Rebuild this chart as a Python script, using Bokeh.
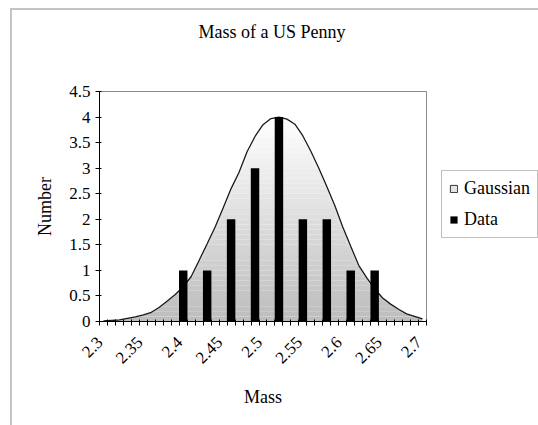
import math
import numpy as np
from bokeh.plotting import figure
from bokeh.models import FixedTicker, Legend, LegendItem, Title
from bokeh.embed import file_html
from bokeh.resources import INLINE

# ---- data ----
mass = [2.30, 2.31, 2.32, 2.33, 2.34, 2.35, 2.36, 2.37, 2.38, 2.39,
        2.40, 2.41, 2.42, 2.43, 2.44, 2.45, 2.46, 2.47, 2.48, 2.49,
        2.50, 2.51, 2.52, 2.53, 2.54, 2.55, 2.56, 2.57, 2.58, 2.59,
        2.60, 2.61, 2.62, 2.63, 2.64, 2.65, 2.66, 2.67, 2.68, 2.69, 2.70]
gaussian = [0.01, 0.02, 0.03, 0.06, 0.09, 0.13, 0.18, 0.28, 0.40, 0.53,
            0.68, 0.88, 1.20, 1.52, 1.85, 2.22, 2.60, 2.92, 3.32, 3.62,
            3.85, 3.97, 4.00, 3.96, 3.86, 3.63, 3.33, 3.00, 2.64, 2.27,
            1.85, 1.47, 1.10, 0.86, 0.64, 0.46, 0.34, 0.24, 0.15, 0.10, 0.05]
data_mass = [2.40, 2.43, 2.46, 2.49, 2.52, 2.55, 2.58, 2.61, 2.64]
data_count = [1, 1, 2, 3, 4, 2, 2, 1, 1]
x_tick_labels = ["2.3", "2.35", "2.4", "2.45", "2.5", "2.55", "2.6", "2.65", "2.7"]
y_tick_labels = ["0", "0.5", "1", "1.5", "2", "2.5", "3", "3.5", "4", "4.5"]

FONT = "Liberation Serif"
LABEL_SHIFT = 0.0045   # rotated labels sit a little left of their category

m = np.array(mass)
g = np.array(gaussian)
step = 0.01
x_lo, x_hi = m[0] - step / 2, m[-1] + step / 2
boundaries = list(np.concatenate([[x_lo], (m[:-1] + m[1:]) / 2, [x_hi]]))

p = figure(frame_width=327, frame_height=230,
           x_range=(x_lo, x_hi), y_range=(0, 4.5),
           output_backend="svg", toolbar_location=None,
           min_border_left=87, min_border_right=112,
           min_border_top=81, min_border_bottom=104,
           styles={"margin-left": "10px", "margin-top": "8px",
                   "border-left": "2px solid #c4c4c4",
                   "border-top": "2px solid #c4c4c4"})
p.xgrid.visible = False
p.ygrid.visible = False
p.background_fill_color = "white"
p.border_fill_color = "white"
p.outline_line_color = "#8a8a8a"
p.outline_line_width = 1

# spacer between frame and title, then the title itself
p.add_layout(Title(text=" ", text_font_size="1px", standoff=42), "above")
p.title.text = "Mass of a US Penny"
p.title.align = "left"
p.title.offset = 99
p.title.standoff = 10
p.title.text_font = FONT
p.title.text_font_size = "18px"
p.title.text_font_style = "normal"
p.title.text_color = "black"

# gradient fill under the gaussian, built from horizontal bands
nb = 40
top = max(gaussian)
for k in range(nb):
    lo = top * k / nb
    hi = top * (k + 1) / nb if k < nb - 1 else top + 1
    t = (k + 0.5) / nb
    v = int(round(188 + t * (255 - 188)))
    col = "#%02x%02x%02x" % (v, v, v)
    p.varea(x=mass, y1=np.minimum(g, lo), y2=np.minimum(g, hi),
            fill_color=col, fill_alpha=1.0)

p.line(mass, gaussian, line_color="#1a1a1a", line_width=1.3)

bars = p.vbar(x=data_mass, top=data_count, width=0.0106,
              fill_color="black", line_color=None)

# legend swatch for the gaussian area (nothing visible in the plot)
swatch = p.quad(left=[np.nan], right=[np.nan], top=[np.nan], bottom=[np.nan],
                fill_color="#e4e4e4", line_color="#333333", line_width=1)

# axes
xticks = [float(s) - LABEL_SHIFT for s in x_tick_labels]
p.xaxis.ticker = FixedTicker(ticks=xticks, minor_ticks=boundaries)
p.xaxis.major_label_overrides = {t: s for t, s in zip(xticks, x_tick_labels)}
p.xaxis.major_tick_line_color = None
p.xaxis.minor_tick_line_color = "black"
p.xaxis.minor_tick_in = 2
p.xaxis.minor_tick_out = 4
p.xaxis.major_label_orientation = math.pi / 4
p.xaxis.major_label_standoff = 12
p.xaxis.axis_label = "Mass"
p.xaxis.axis_label_standoff = 16

yticks = [float(s) for s in y_tick_labels]
ykeys = {}
for s in y_tick_labels:
    v = float(s)
    ykeys[int(v) if v == int(v) else v] = s
p.yaxis.ticker = FixedTicker(ticks=yticks)
p.yaxis.major_label_overrides = ykeys
p.yaxis.major_tick_line_color = "black"
p.yaxis.major_tick_in = 2
p.yaxis.major_tick_out = 4
p.yaxis.minor_tick_line_color = None
p.yaxis.major_label_standoff = 5
p.yaxis.axis_label = "Number"
p.yaxis.axis_label_standoff = 11

for ax in (p.xaxis[0], p.yaxis[0]):
    ax.axis_line_color = "black"
    ax.major_label_text_font = FONT
    ax.major_label_text_font_size = "17px"
    ax.major_label_text_color = "black"
    ax.axis_label_text_font = FONT
    ax.axis_label_text_font_size = "18px"
    ax.axis_label_text_font_style = "normal"
    ax.axis_label_text_color = "black"

legend = Legend(items=[LegendItem(label="Gaussian", renderers=[swatch]),
                       LegendItem(label="Data", renderers=[bars])],
                location=(15, 83), orientation="vertical")
legend.label_text_font = FONT
legend.label_text_font_size = "18px"
legend.label_text_color = "black"
legend.glyph_width = 9
legend.glyph_height = 9
legend.label_height = 20
legend.label_standoff = 6
legend.spacing = 10
legend.padding = 7
legend.margin = 0
legend.border_line_color = "#808080"
legend.border_line_width = 1
legend.background_fill_color = "white"
p.add_layout(legend, "right")

open("out.html", "w").write(file_html(p, INLINE))
